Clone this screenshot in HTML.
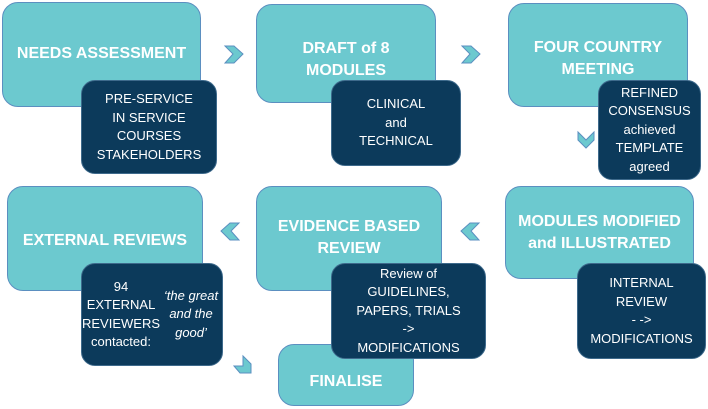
<!DOCTYPE html>
<html><head><style>
body{margin:0;width:708px;height:409px;background:#fff;position:relative;overflow:hidden;font-family:"Liberation Sans",sans-serif}
.l{position:absolute;background:#6cc9cf;border:1px solid #5b8fc0;border-radius:16px;color:#fff;font-weight:bold;font-size:16px;display:flex;align-items:center;justify-content:center;text-align:center;line-height:22px;box-sizing:border-box}
.d{position:absolute;background:#0c3a5b;border:1px solid #3e6a8c;border-radius:14px;color:#fff;font-size:13px;display:flex;align-items:center;justify-content:center;text-align:center;line-height:18.5px;box-sizing:border-box}
svg{position:absolute}
</style></head><body>
<div class="l" style="left:2px;top:2px;width:199px;height:105px;padding-bottom:2px">NEEDS ASSESSMENT</div>
<div class="d" style="left:81px;top:80px;width:136px;height:94px">PRE-SERVICE<br>IN SERVICE<br>COURSES<br>STAKEHOLDERS</div>
<div class="l" style="left:256px;top:4px;width:180px;height:99px;align-items:flex-start;padding-top:33px">DRAFT of 8<br>MODULES</div>
<div class="d" style="left:331px;top:80px;width:130px;height:86px">CLINICAL<br>and<br>TECHNICAL</div>
<div class="l" style="left:508px;top:3px;width:180px;height:104px;align-items:flex-start;padding-top:33px">FOUR COUNTRY<br>MEETING</div>
<div class="d" style="left:598px;top:80px;width:103px;height:100px">REFINED<br>CONSENSUS<br>achieved<br>TEMPLATE<br>agreed</div>

<div class="l" style="left:7px;top:186px;width:196px;height:105px;align-items:flex-start;padding-top:43px">EXTERNAL REVIEWS</div>
<div class="d" style="left:81px;top:263px;width:142px;height:103px">94 EXTERNAL<br>REVIEWERS<br>contacted:<br><i>‘the great and the<br>good’</i></div>
<div class="l" style="left:278px;top:344px;width:136px;height:62px;align-items:flex-end;padding-bottom:12px">FINALISE</div>
<div class="l" style="left:256px;top:186px;width:186px;height:105px;align-items:flex-start;padding-top:29px">EVIDENCE BASED<br>REVIEW</div>
<div class="d" style="left:331px;top:263px;width:155px;height:96px">Review of<br>GUIDELINES,<br>PAPERS, TRIALS<br>-&gt;<br>MODIFICATIONS</div>
<div class="l" style="left:505px;top:186px;width:189px;height:93px;align-items:flex-start;padding-top:24px">MODULES MODIFIED<br>and ILLUSTRATED</div>
<div class="d" style="left:577px;top:263px;width:129px;height:96px">INTERNAL<br>REVIEW<br>- -&gt;<br>MODIFICATIONS</div>

<svg width="708" height="409" style="left:0;top:0">
<g fill="#6cc9cf" stroke="#5b8fc0" stroke-width="1">
<polygon points="225,46 234,46 243,54 234,63 225,63 233,54"/>
<polygon points="462,46 471,46 480,54 471,63 462,63 470,54"/>
<polygon points="578,132 586,140 594,132 594,140 586,148 578,140"/>
<polygon points="239,223 230,223 221,231 230,240 239,240 231,231"/>
<polygon points="479,223 470,223 461,231 470,240 479,240 471,231"/>
<polygon points="234,366 243,366 243,356 251,364 251,373 240,373"/>
</g>
</svg>
</body></html>
